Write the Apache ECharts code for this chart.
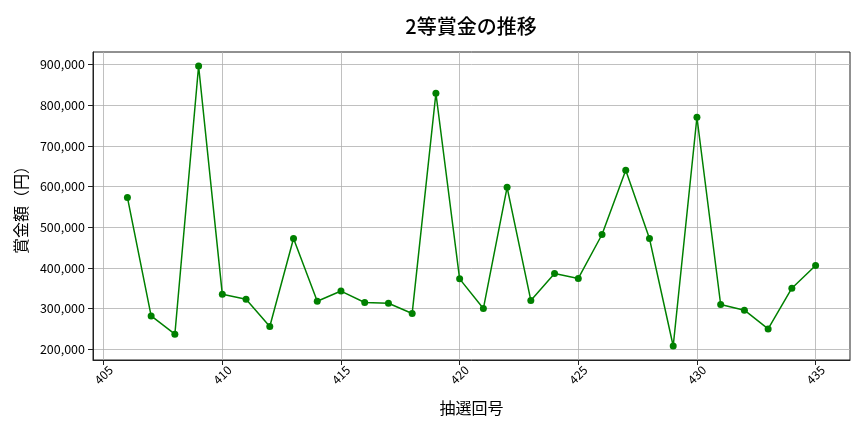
<!DOCTYPE html>
<html>
<head>
<meta charset="utf-8">
<script src="https://cdn.jsdelivr.net/npm/echarts@6/dist/echarts.min.js"></script>
<style>
  html, body { margin: 0; padding: 0; background: #fff; }
  #main { width: 864px; height: 432px; }
</style>
</head>
<body>
<div id="main"></div>
<script>
// 抽選回号
const rounds = [406, 407, 408, 409, 410, 411, 412, 413, 414, 415,
  416, 417, 418, 419, 420, 421, 422, 423, 424, 425,
  426, 427, 428, 429, 430, 431, 432, 433, 434, 435];
// 2等賞金（円）
const prizes = [573000, 282000, 237000, 896000, 335000, 323000, 256000, 472000, 318000, 343000,
  315000, 313000, 288000, 829000, 373000, 300000, 598000, 320000, 386000, 374000,
  482000, 640000, 472000, 208000, 770000, 310000, 296000, 250000, 350000, 406000];
// 目盛り
const xTicks = [405, 410, 415, 420, 425, 430, 435];
const yTicks = [200000, 300000, 400000, 500000, 600000, 700000, 800000, 900000];

const FONT = '"Noto Sans CJK JP", "Noto Sans", sans-serif';

const chart = echarts.init(document.getElementById('main'), null, { renderer: 'canvas' });

const points = rounds.map((r, i) => [r, prizes[i]]);

const option = {
  animation: false,
  title: {
    text: '2等賞金の推移',
    left: 466,
    top: 11,
    textAlign: 'center',
    textStyle: { fontFamily: FONT, fontSize: 20, fontWeight: 500, color: '#000' }
  },
  grid: { left: 93, right: 14, top: 52, bottom: 72, show: true, borderColor: '#222', borderWidth: 1 },
  xAxis: {
    type: 'value',
    min: 404.55,
    max: 436.45,
    name: '抽選回号',
    nameLocation: 'middle',
    nameGap: 40,
    nameTextStyle: { fontFamily: FONT, fontSize: 16, color: '#000' },
    axisLine: { show: true, lineStyle: { color: '#222' } },
    axisTick: { show: true, length: 5, customValues: xTicks, lineStyle: { color: '#222' } },
    axisLabel: {
      rotate: 45,
      align: 'center',
      verticalAlign: 'middle',
      margin: 15,
      customValues: xTicks,
      fontFamily: FONT, fontSize: 12, color: '#000'
    },
    splitLine: { show: true, lineStyle: { color: '#b0b0b0', width: 0.8 } }
  },
  yAxis: {
    type: 'value',
    min: 173600,
    max: 930400,
    name: '賞金額（円）',
    nameLocation: 'middle',
    nameGap: 64,
    nameTextStyle: { fontFamily: FONT, fontSize: 16, color: '#000' },
    axisLine: { show: true, lineStyle: { color: '#222' } },
    axisTick: { show: true, length: 5, customValues: yTicks, lineStyle: { color: '#222' } },
    axisLabel: {
      customValues: yTicks,
      margin: 8,
      fontFamily: FONT, fontSize: 12.5, color: '#000',
      formatter: v => v.toLocaleString('en-US')
    },
    splitLine: { show: true, lineStyle: { color: '#b0b0b0', width: 0.8 } }
  },
  series: [{
    type: 'line',
    data: points,
    symbol: 'circle',
    symbolSize: 7,
    itemStyle: { color: '#008000' },
    lineStyle: { color: '#008000', width: 1.5 }
  }]
};

chart.setOption(option);
</script>
</body>
</html>
